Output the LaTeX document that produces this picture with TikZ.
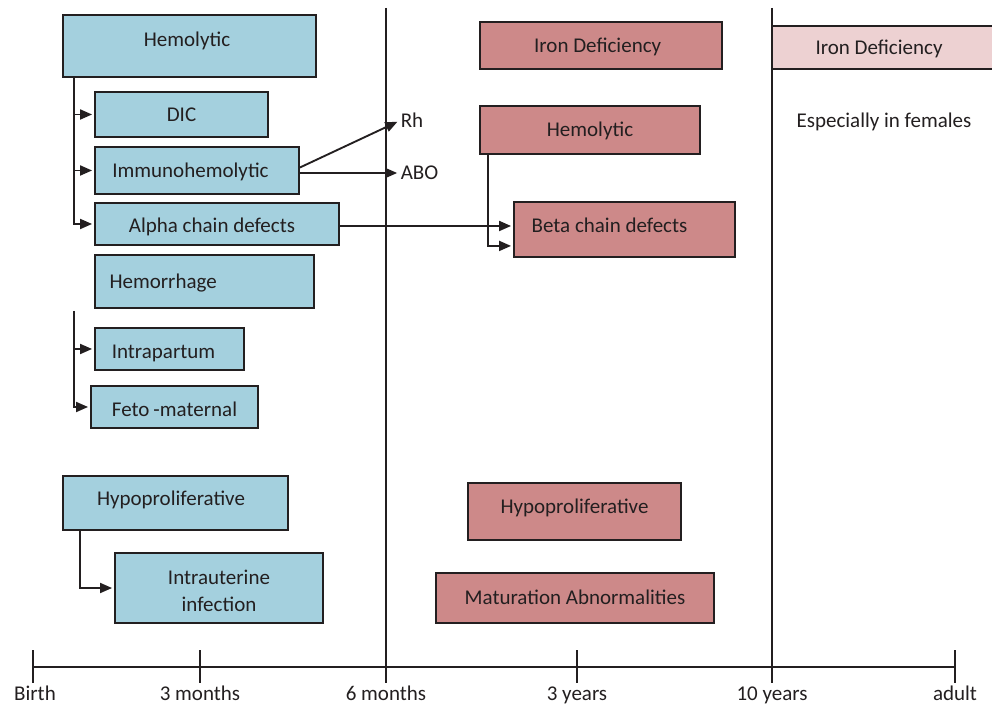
\documentclass[tikz,border=0pt]{standalone}
\usepackage{fontspec}
\setmainfont{Carlito}
\usetikzlibrary{arrows.meta,calc}
\definecolor{bluefill}{RGB}{164,208,222}
\definecolor{redfill}{RGB}{205,137,137}
\definecolor{pinkfill}{RGB}{237,209,210}
\definecolor{ink}{RGB}{35,31,32}
\newcommand{\padr}[1]{\hspace{#1}\mbox{}}
\begin{document}
\begin{tikzpicture}[x=0.75pt,y=-0.75pt,
 every node/.style={font=\fontsize{15.75pt}{20pt}\selectfont, text=ink},
 box/.style={draw=ink, line width=1.4pt, inner sep=0pt},
 cap/.style={text height=10pt, text depth=#1}, cap/.default=0pt,
 bbox/.style={box, fill=bluefill},
 rbox/.style={box, fill=redfill},
 pbox/.style={box, fill=pinkfill},
 wh/.style 2 args={minimum width=#1, minimum height=#2},
 conn/.style={draw=ink, line width=1.4pt},
 arr/.style={conn, -{Triangle[length=9pt,width=7.5pt]}, shorten >=1.5pt},
 lbl/.style={inner sep=1pt, cap},
]
\useasboundingbox (0,0) rectangle (992,705);
\fill[white] (0,0) rectangle (992,705);

% timeline
\coordinate (t0) at (33,667);
\coordinate (t1) at (200,667);
\coordinate (t2) at (386,667);
\coordinate (t3) at (577,667);
\coordinate (t4) at (772,667);
\coordinate (t5) at (955,667);
\draw[conn] (t0) -- (t5);
\foreach \t in {t0,t1,t3,t5}{\draw[conn] ($(\t)+(0,-17)$) -- ($(\t)+(0,16)$);}
\draw[conn] (386,8) -- ($(t2)+(0,16)$);
\draw[conn] (772,8) -- ($(t4)+(0,16)$);
\node[lbl] (lb0) at (35,694) {Birth};
\node[lbl] (lb1) at (200,694) {3 months};
\node[lbl] (lb2) at (386,694) {6 months};
\node[lbl] (lb3) at (577,694) {3 years};
\node[lbl] (lb4) at (772,694) {10 years};
\node[lbl] (lb5) at (955,694) {adult};

% blue boxes
\node[bbox, cap=9pt, wh={189.75pt}{46.5pt}] (hemB) at (189.5,46) {Hemolytic\padr{3.75pt}};
\node[bbox, cap, wh={129.75pt}{33.75pt}] (dic) at (181.5,114.5) {DIC};
\node[bbox, cap, wh={153pt}{35.25pt}] (imm) at (197,170.5) {Immunohemolytic\padr{9.75pt}};
\node[bbox, text height=13pt, text depth=0pt, wh={183pt}{31.5pt}] (alpha) at (217,224) {Alpha chain defects\padr{7.5pt}};
\node[bbox, cap, wh={164.25pt}{39.75pt}] (hemor) at (204.5,281.5) {Hemorrhage\padr{62pt}};
\node[bbox, text height=14.5pt, text depth=0pt, wh={111.75pt}{31.5pt}] (intra) at (169.5,349) {Intrapartum\padr{9pt}};
\node[bbox, text height=14.5pt, text depth=0pt, wh={125.25pt}{31.5pt}] (feto) at (174.5,407) {Feto\kern3pt-maternal};
\node[bbox, cap=6pt, wh={168.75pt}{40.5pt}] (hypoB) at (175.5,503) {Hypoproliferative\padr{6.75pt}};
\node[bbox, align=center, wh={156pt}{52.5pt}] (intrau) at (219,588) {\rule{0pt}{15.5pt}Intrauterine\\infection};

% red boxes
\node[rbox, cap, wh={181.5pt}{35.25pt}] (ironR) at (601,45.5) {Iron Deficiency\padr{5pt}};
\node[rbox, cap, wh={165pt}{36pt}] (hemR) at (590,130) {Hemolytic};
\node[rbox, cap=5.25pt, wh={165.75pt}{41.25pt}] (beta) at (624.5,229.5) {Beta chain defects\padr{22.5pt}};
\node[rbox, cap=6.75pt, wh={159.75pt}{42.75pt}] (hypoR) at (574.5,511.5) {Hypoproliferative};
\node[rbox, cap, wh={208.5pt}{37.5pt}] (matur) at (575,598) {Maturation Abnormalities};
\node[pbox, cap, wh={165.75pt}{32.25pt}] (ironP) at (882.5,47.5) {Iron Deficiency\padr{5.25pt}};

% free labels
\node[lbl] (rh) at (412,121) {Rh};
\node[lbl] (abo) at (419.5,173) {ABO};
\node[lbl] (fem) at (884,121) {Especially in females};

% connectors
\coordinate (hb) at ($(hemB.south west)+(12,0)$);
\draw[arr] (hb) |- (alpha.west);
\draw[arr] (hb |- dic.west) -- (dic.west);
\draw[arr] (hb |- imm.west) -- (imm.west);
\draw[arr] ($(imm.east)+(0,-3)$) -- (rh.west);
\coordinate (ia) at ($(imm.east)+(0,2.5)$);
\draw[arr] (ia) -- (ia -| abo.west);
\coordinate (ab) at ($(alpha.east)+(0,2)$);
\draw[arr] (ab) -- (ab -| beta.west);
\coordinate (hm) at ($(hemor.south west)+(-20,2)$);
\draw[arr] (hm) |- (feto.west);
\draw[arr] (hm |- intra.west) -- (intra.west);
\coordinate (hy) at ($(hypoB.south west)+(18,0)$);
\draw[arr] (hy) |- (intrau.west);
\coordinate (hr) at ($(hemR.south west)+(9,0)$);
\coordinate (hr2) at ($(beta.south west)+(0,-12)$);
\draw[arr] (hr) |- (hr2);
\end{tikzpicture}
\end{document}
